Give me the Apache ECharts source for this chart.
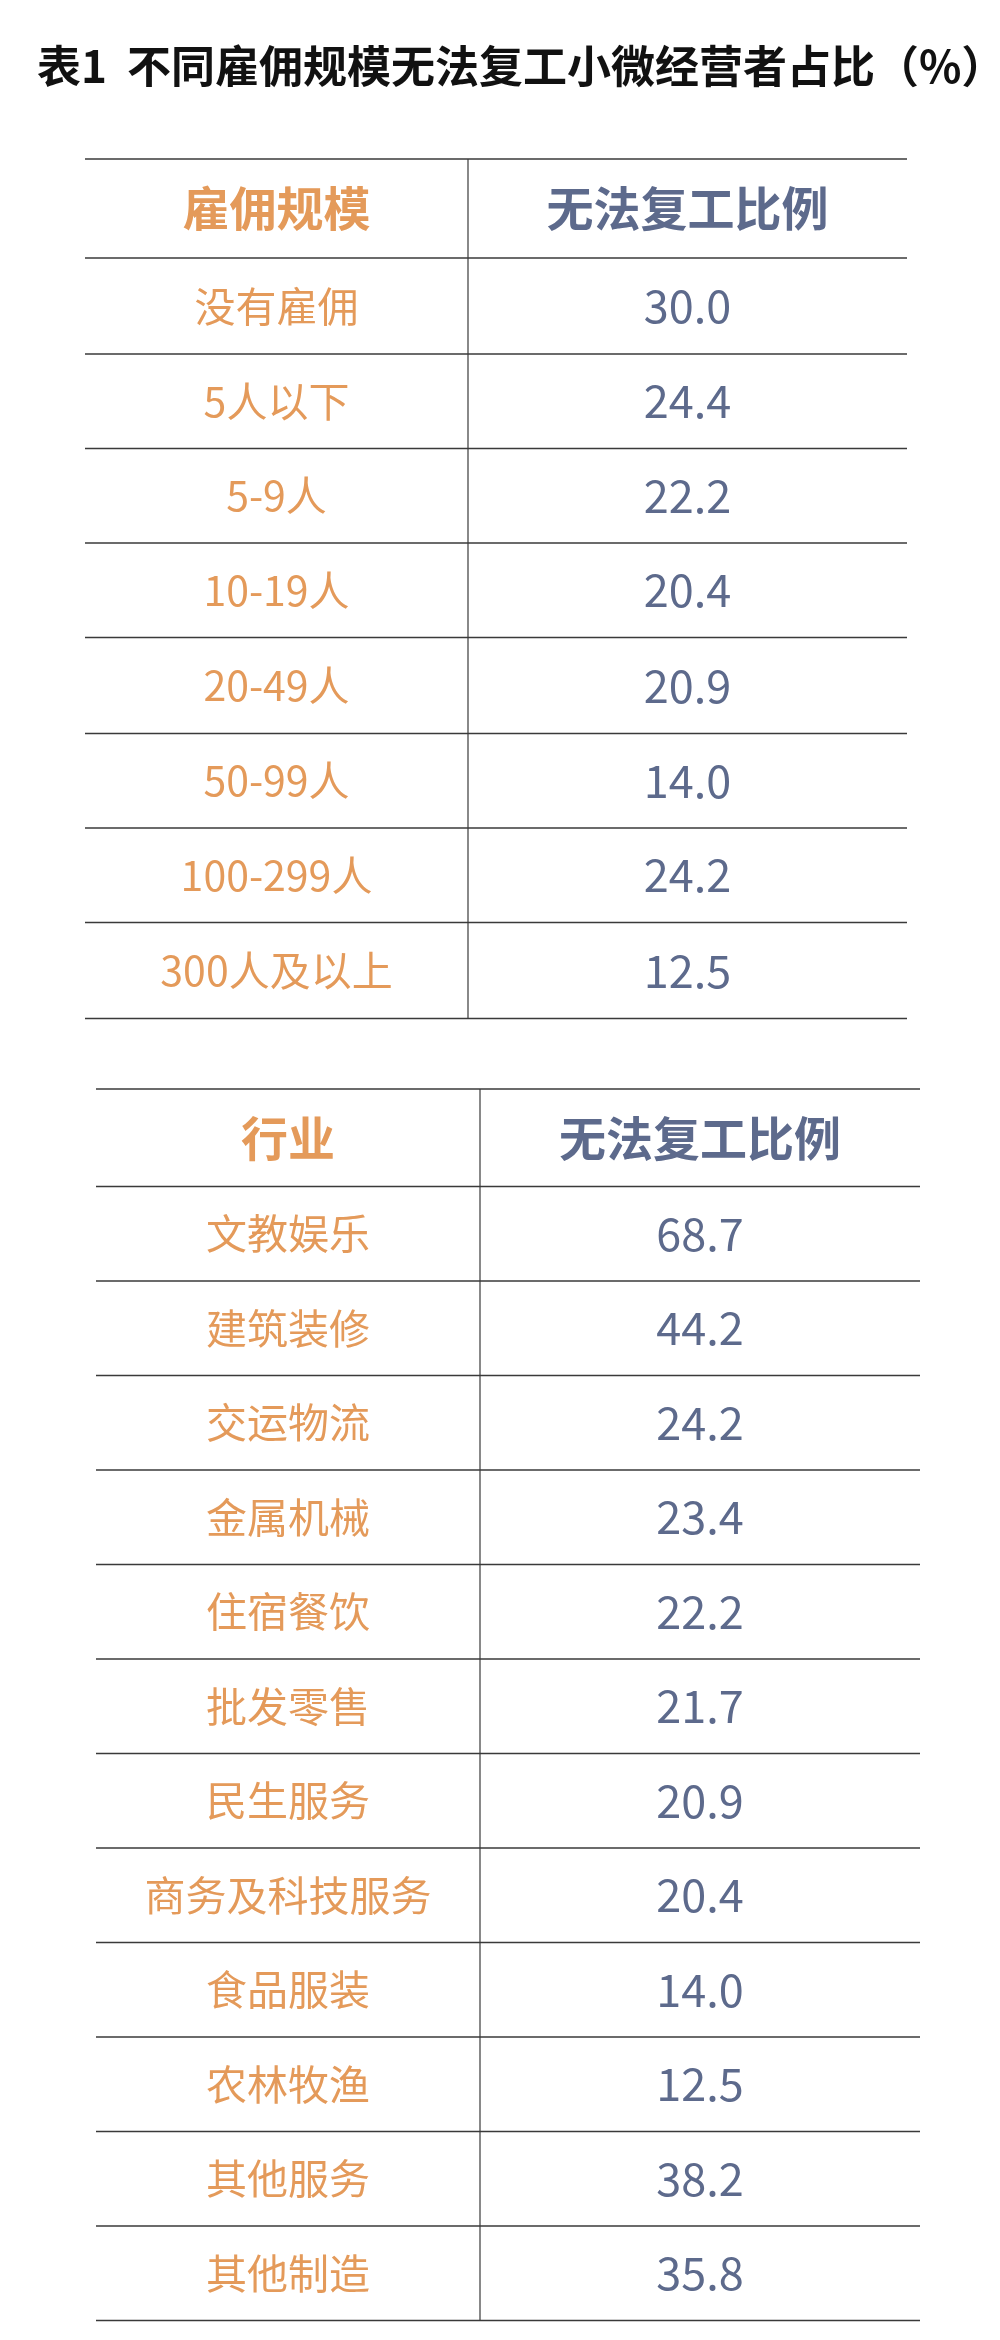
<!DOCTYPE html>
<html><head><meta charset="utf-8">
<script src="https://cdn.jsdelivr.net/npm/echarts@6/dist/echarts.min.js"></script>
<style>html,body{margin:0;background:#fff}#c{width:1000px;height:2340px}</style>
</head><body><div id="c"></div>
<script>
const title = '表1  不同雇佣规模无法复工小微经营者占比（%）';
const header1 = ['雇佣规模', '无法复工比例'];
const sizeCats = ['没有雇佣','5人以下','5-9人','10-19人','20-49人','50-99人','100-299人','300人及以上'];
const sizeVals = ['30.0','24.4','22.2','20.4','20.9','14.0','24.2','12.5'];
const header2 = ['行业', '无法复工比例'];
const indCats = ['文教娱乐','建筑装修','交运物流','金属机械','住宿餐饮','批发零售','民生服务','商务及科技服务','食品服装','农林牧渔','其他服务','其他制造'];
const indVals = ['68.7','44.2','24.2','23.4','22.2','21.7','20.9','20.4','14.0','12.5','38.2','35.8'];

const ORANGE = '#E49A5A', SLATE = '#5D6A8C', LINE = '#3a3a3a';
const FONT = '"Noto Sans CJK SC", sans-serif';
const els = [];
els.push({type:'text', left:37, top:44, style:{text:title, font:'bold 44px '+FONT, fill:'#111'}});

function table(x0, x1, xd, lines, head, cats, vals){
  lines.forEach(y => els.push({type:'line', shape:{x1:x0,y1:y,x2:x1,y2:y}, style:{stroke:LINE, lineWidth:1.6}}));
  els.push({type:'line', shape:{x1:xd,y1:lines[0],x2:xd,y2:lines[lines.length-1]}, style:{stroke:LINE, lineWidth:1.2}});
  const cL = (x0+xd)/2, cR = (xd+x1)/2;
  const rows = [[head[0], head[1], true]].concat(cats.map((c,i)=>[c, vals[i], false]));
  rows.forEach((r,i)=>{
    const yc = (lines[i]+lines[i+1])/2;
    els.push({type:'text', x:cL, y:yc, style:{text:r[0], fill:ORANGE, font:(r[2]?'bold 47px ':'41px ')+FONT, align:'center', verticalAlign:'middle'}});
    els.push({type:'text', x:cR, y:yc, style:{text:r[1], fill:SLATE, font:(r[2]?'bold 47px ':'45px ')+FONT, align:'center', verticalAlign:'middle'}});
  });
}
table(85, 907, 468, [159,258,354,448.5,543,637.5,733.5,828,922.5,1018.5], header1, sizeCats, sizeVals);
table(96, 920, 480, [1089,1186.5,1281,1375.5,1470,1564.5,1659,1753.5,1848,1942.5,2037,2131.5,2226,2320.5], header2, indCats, indVals);

const chart = echarts.init(document.getElementById('c'));
chart.setOption({backgroundColor:'#fff', graphic: els});
</script></body></html>
